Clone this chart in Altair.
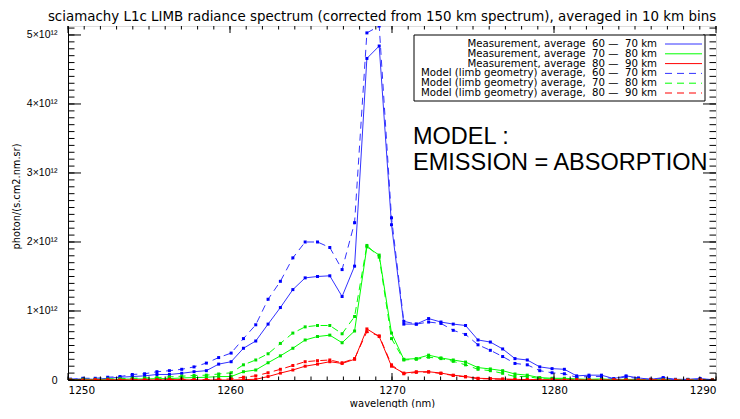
import altair as alt
import pandas as pd

# ---------------- data (radiance in units of 1e12 photon/(s.cm2.nm.sr)) ----------------
wavelength = [1250.16, 1250.92, 1251.68, 1252.45, 1253.21, 1253.97, 1254.73, 1255.49, 1256.26, 1257.02,
              1257.78, 1258.54, 1259.30, 1260.07, 1260.83, 1261.59, 1262.35, 1263.11, 1263.88, 1264.64,
              1265.40, 1266.16, 1266.92, 1267.69, 1268.45, 1269.21, 1269.97, 1270.73, 1271.50, 1272.26,
              1273.02, 1273.78, 1274.54, 1275.31, 1276.07, 1276.83, 1277.59, 1278.35, 1279.12, 1279.88,
              1280.64, 1281.40, 1282.16, 1282.93, 1283.69, 1284.45, 1285.21, 1285.97, 1286.74, 1287.50,
              1288.26, 1289.02, 1289.78]

meas_60_70 = [0.01, 0.015, 0.01, 0.025, 0.04, 0.05, 0.06, 0.08, 0.08, 0.097,
              0.12, 0.135, 0.23, 0.265, 0.46, 0.565, 0.81, 1.05, 1.31, 1.48,
              1.50, 1.51, 1.21, 1.65, 4.66, 4.84, 2.25, 0.81, 0.81, 0.89,
              0.84, 0.81, 0.79, 0.58, 0.55, 0.45, 0.31, 0.29, 0.19, 0.165,
              0.155, 0.06, 0.07, 0.07, 0.02, 0.06, 0.03, 0.01, 0.035, 0.01,
              0.01, 0.02, 0.005]
meas_70_80 = [0.005, 0.01, 0.005, 0.01, 0.01, 0.015, 0.015, 0.02, 0.02, 0.03,
              0.035, 0.04, 0.05, 0.05, 0.12, 0.145, 0.25, 0.35, 0.46, 0.58,
              0.63, 0.65, 0.54, 0.71, 1.93, 1.81, 0.68, 0.30, 0.31, 0.36,
              0.32, 0.29, 0.26, 0.18, 0.16, 0.135, 0.087, 0.07, 0.035, 0.025,
              0.025, 0.015, 0.01, 0.015, 0.005, 0.01, 0.005, 0.005, 0.01, 0.0,
              0.005, 0.005, 0.0]
meas_80_90 = [0.0, 0.005, 0.0, 0.0, 0.005, 0.0, 0.005, 0.0, 0.005, 0.005,
              0.0, 0.0, 0.0, 0.0, 0.005, 0.01, 0.05, 0.10, 0.145, 0.20,
              0.23, 0.265, 0.24, 0.30, 0.74, 0.63, 0.20, 0.10, 0.12, 0.12,
              0.10, 0.07, 0.05, 0.025, 0.02, 0.015, 0.01, 0.005, 0.005, 0.0,
              0.005, 0.0, 0.005, 0.0, 0.0, 0.005, 0.0, 0.0, 0.0, 0.005,
              0.0, 0.0, 0.0]
model_60_70 = [0.01, 0.025, 0.025, 0.04, 0.05, 0.08, 0.09, 0.12, 0.135, 0.155,
               0.19, 0.245, 0.325, 0.39, 0.60, 0.80, 1.17, 1.43, 1.77, 2.00,
               2.00, 1.92, 1.60, 2.28, 5.03, 5.13, 2.35, 0.85, 0.81, 0.84,
               0.82, 0.72, 0.66, 0.51, 0.43, 0.34, 0.24, 0.22, 0.135, 0.105,
               0.09, 0.04, 0.05, 0.05, 0.015, 0.045, 0.02, 0.01, 0.025, 0.005,
               0.005, 0.015, 0.0]
model_70_80 = [0.005, 0.01, 0.01, 0.015, 0.02, 0.025, 0.03, 0.035, 0.045, 0.055,
               0.065, 0.07, 0.087, 0.105, 0.22, 0.29, 0.38, 0.53, 0.68, 0.77,
               0.79, 0.79, 0.67, 0.92, 1.95, 1.78, 0.60, 0.29, 0.30, 0.33,
               0.31, 0.27, 0.22, 0.155, 0.135, 0.097, 0.05, 0.05, 0.02, 0.015,
               0.015, 0.01, 0.005, 0.01, 0.005, 0.005, 0.005, 0.0, 0.005, 0.0,
               0.0, 0.005, 0.0]
model_80_90 = [0.0, 0.0, 0.005, 0.005, 0.0, 0.005, 0.005, 0.005, 0.01, 0.01,
               0.005, 0.005, 0.01, 0.015, 0.04, 0.06, 0.105, 0.155, 0.21, 0.265,
               0.28, 0.29, 0.25, 0.31, 0.70, 0.64, 0.22, 0.09, 0.11, 0.115,
               0.095, 0.065, 0.045, 0.02, 0.015, 0.01, 0.005, 0.005, 0.0, 0.005,
               0.0, 0.005, 0.0, 0.0, 0.005, 0.0, 0.0, 0.005, 0.0, 0.0,
               0.0, 0.005, 0.0]

NB = "\u00a0"
legend_labels = [
    "Measurement, average" + NB * 2 + "60" + NB + "\u2014" + NB * 2 + "70" + NB + "km",
    "Measurement, average" + NB * 2 + "70" + NB + "\u2014" + NB * 2 + "80" + NB + "km",
    "Measurement, average" + NB * 2 + "80" + NB + "\u2014" + NB * 2 + "90" + NB + "km",
    "Model (limb geometry) average," + NB * 2 + "60" + NB + "\u2014" + NB * 2 + "70" + NB + "km",
    "Model (limb geometry) average," + NB * 2 + "70" + NB + "\u2014" + NB * 2 + "80" + NB + "km",
    "Model (limb geometry) average," + NB * 2 + "80" + NB + "\u2014" + NB * 2 + "90" + NB + "km",
]
series_values = [meas_60_70, meas_70_80, meas_80_90, model_60_70, model_70_80, model_80_90]
line_colors = ["#3333ff", "#00ff00", "#ff0000", "#3333ff", "#00ff00", "#ff0000"]
point_colors = ["#0000ff", "#00e000", "#ff0000", "#0000ff", "#00e000", "#ff0000"]
series_dashed = [False, False, False, True, True, True]

x_major = [1250, 1260, 1270, 1280, 1290]
x_minor = list(range(1250, 1291))
y_major = [0, 1, 2, 3, 4, 5]
y_minor = [round(i * 0.1, 1) for i in range(52)]

title_text = "sciamachy L1c LIMB radiance spectrum (corrected from 150 km spectrum), averaged in 10 km bins"

# ---------------- layout ----------------
W, H = 648, 354
FONT = "DejaVu Sans"
xscale = alt.Scale(domain=[1250, 1290], nice=False, zero=False)
yscale = alt.Scale(domain=[0, 5.13], nice=False, zero=False)

xaxis = alt.Axis(values=x_major, ticks=False, grid=False, labelPadding=5, labelFontSize=10.5,
                 format="d", labelFont=FONT, labelColor="black", domainColor="black",
                 titleFont=FONT, titleFontSize=10, titleFontWeight="normal", titleColor="black",
                 titleX=W / 2, titleY=26, titleBaseline="alphabetic", titleAlign="center")
yaxis = alt.Axis(values=y_major, ticks=False, grid=False, labelPadding=11, labelFontSize=10.5,
                 labelFont="Liberation Sans", labelColor="black", domainColor="black",
                 labelExpr="datum.value == 0 ? '0' : datum.value + '\u00d710\u00b9\u00b2'",
                 titleFont=FONT, titleFontSize=9.8, titleFontWeight="normal", titleColor="black",
                 titleX=-52, titleY=170, titleAngle=270, titleBaseline="middle", titleAlign="center")

X = alt.X("wl:Q", scale=xscale, axis=xaxis, title="wavelength (nm)")
Y = alt.Y("v:Q", scale=yscale, axis=yaxis, title="photon/(s.cm2.nm.sr)")

layers = []

# data lines
for vals, lcol, pcol, dashed in zip(series_values, line_colors, point_colors, series_dashed):
    df = pd.DataFrame({"wl": wavelength, "v": vals})
    kw = dict(color=lcol, strokeWidth=1, clip=True,
              point=alt.OverlayMarkDef(shape="square", size=9, filled=True, color=pcol, clip=True))
    if dashed:
        kw["strokeDash"] = [7, 5]
    layers.append(alt.Chart(df).mark_line(**kw).encode(x=X, y=Y))

# inward ticks (IDL style box axes)
def xticks(vals, length):
    d = pd.DataFrame({"wl": vals})
    bot = alt.Chart(d).mark_rule(color="black", strokeWidth=1).encode(
        x=X, y=alt.value(H), y2=alt.value(H - length))
    top = alt.Chart(d).mark_rule(color="black", strokeWidth=1).encode(
        x=X, y=alt.value(0), y2=alt.value(length))
    return [bot, top]

def yticks(vals, length):
    d = pd.DataFrame({"v": vals})
    left = alt.Chart(d).mark_rule(color="black", strokeWidth=1).encode(
        y=Y, x=alt.value(0), x2=alt.value(length))
    right = alt.Chart(d).mark_rule(color="black", strokeWidth=1).encode(
        y=Y, x=alt.value(W), x2=alt.value(W - length))
    return [left, right]

layers += xticks(x_minor, 3.5) + xticks(x_major, 7)
layers += yticks(y_minor, 6.5) + yticks(y_major, 13)

one = pd.DataFrame({"a": [0]})

# legend box
layers.append(alt.Chart(one).mark_rect(fill="white", stroke="black", strokeWidth=1).encode(
    x=alt.value(346), x2=alt.value(637), y=alt.value(9), y2=alt.value(75)))
row_y = [18, 27.8, 37.6, 47.4, 57.2, 67]
for lab, col, dashed, ry in zip(legend_labels, line_colors, series_dashed, row_y):
    layers.append(alt.Chart(one).mark_text(text=lab, align="right", baseline="middle",
                                           font=FONT, fontSize=10.2, color="black").encode(
        x=alt.value(589), y=alt.value(ry)))
    rkw = dict(color=col, strokeWidth=1)
    if dashed:
        rkw["strokeDash"] = [7, 5]
    layers.append(alt.Chart(one).mark_rule(**rkw).encode(
        x=alt.value(597), x2=alt.value(634), y=alt.value(ry)))

# annotation
for txt, ty in [("MODEL :", 111), ("EMISSION = ABSORPTION", 137)]:
    layers.append(alt.Chart(one).mark_text(text=txt, align="left", baseline="middle",
                                           font="Liberation Sans", fontSize=23.5, color="black").encode(
        x=alt.value(345), y=alt.value(ty)))

# chart title as text above the plot frame
layers.append(alt.Chart(one).mark_text(text=title_text, align="center", baseline="alphabetic",
                                       font=FONT, fontSize=13.4, color="black").encode(
    x=alt.value(W / 2 - 10), y=alt.value(-5)))

chart = alt.layer(*layers).properties(
    width=W, height=H,
    autosize=alt.AutoSizeParams(type="none"),
    padding={"left": 60, "top": 18, "right": 16, "bottom": 28},
).configure_view(stroke="black", strokeWidth=1).configure(background="white")

chart.save("out.html", embed_options={"renderer": "svg", "actions": False})
